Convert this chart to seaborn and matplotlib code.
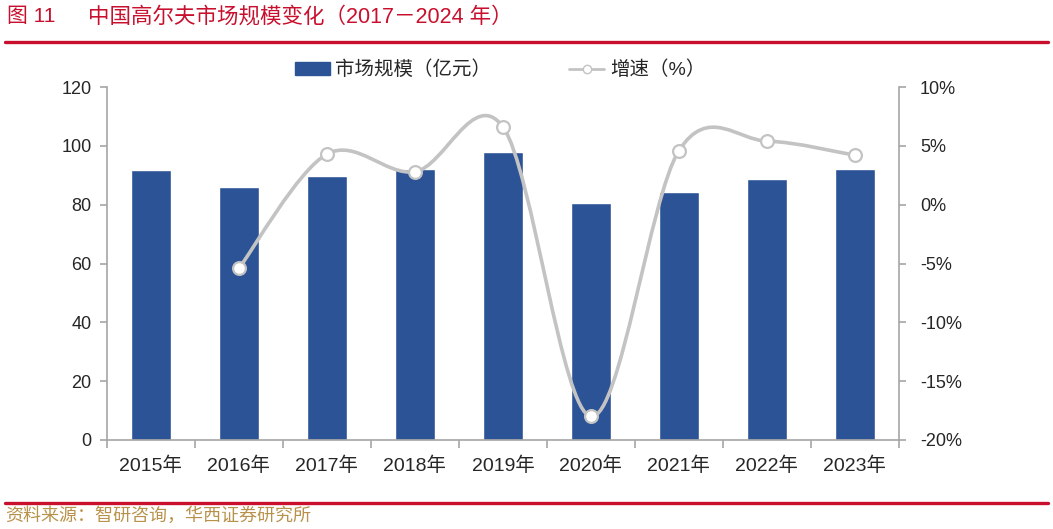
import numpy as np
import pandas as pd
import matplotlib
matplotlib.use("Agg")
import matplotlib.pyplot as plt
from matplotlib.path import Path
from matplotlib.patches import PathPatch
from matplotlib.lines import Line2D
from matplotlib.patches import Patch
import seaborn as sns

years = ["2015年", "2016年", "2017年", "2018年", "2019年", "2020年", "2021年", "2022年", "2023年"]
market_size = [91.8, 86.1, 89.7, 92.2, 98.0, 80.6, 84.3, 88.7, 92.2]
growth_years = ["2016年", "2017年", "2018年", "2019年", "2020年", "2021年", "2022年", "2023年"]
growth_pct = [-5.4, 4.3, 2.8, 6.6, -18.0, 4.6, 5.4, 4.2]
left_ticks = [0, 20, 40, 60, 80, 100, 120]
right_ticks = [-20, -15, -10, -5, 0, 5, 10]

title_num = "图 11"
title_text = "中国高尔夫市场规模变化（2017－2024 年）"
source_text = "资料来源：智研咨询，华西证券研究所"
bar_label = "市场规模（亿元）"
line_label = "增速（%）"

sns.set_theme(style="white")
FONT = ["Liberation Sans", "Noto Sans CJK SC", "DejaVu Sans"]
plt.rcParams["font.family"] = FONT

BAR_C = "#2B5396"
LINE_C = "#C3C3C3"
AX_C = "#A6A6A6"
TXT_C = "#262626"
RED = "#C8102E"

fig = plt.figure(figsize=(10.53, 5.29), dpi=100)
ax = fig.add_axes([107 / 1053, 89 / 529, 792 / 1053, 353 / 529])

df = pd.DataFrame({"year": years, "size": market_size})
sns.barplot(data=df, x="year", y="size", color=BAR_C, width=0.45, ax=ax,
            saturation=1, order=years)
ax.set_xlim(-0.5, len(years) - 0.5)
ax.set_ylim(0, 120)
ax.set_yticks(left_ticks)
ax.set_yticklabels([str(t) for t in left_ticks])
ax.set_xlabel("")
ax.set_ylabel("")

ax2 = ax.twinx()
ax2.set_ylim(-20, 10)
ax2.set_yticks(right_ticks)
ax2.set_yticklabels([f"{t}%" for t in right_ticks])

# smoothed line (Excel-style Catmull-Rom Bezier through data points)
xs = np.array([years.index(y) for y in growth_years], dtype=float)
ys = np.array(growth_pct, dtype=float)
pts = np.column_stack([xs, ys])
n = len(pts)
verts = [tuple(pts[0])]
codes = [Path.MOVETO]
for i in range(n - 1):
    p0 = pts[i - 1] if i > 0 else pts[i]
    p1 = pts[i]
    p2 = pts[i + 1]
    p3 = pts[i + 2] if i + 2 < n else pts[i + 1]
    c1 = p1 + (p2 - p0) / 6.0
    c2 = p2 - (p3 - p1) / 6.0
    verts += [tuple(c1), tuple(c2), tuple(p2)]
    codes += [Path.CURVE4] * 3
ax2.add_patch(PathPatch(Path(verts, codes), facecolor="none", edgecolor=LINE_C,
                        lw=2.6, zorder=3))
gdf = pd.DataFrame({"x": xs, "g": ys})
sns.scatterplot(data=gdf, x="x", y="g", ax=ax2, s=85, color="white",
                edgecolor=LINE_C, linewidth=1.6, zorder=4, legend=False)
ax2.set_xlabel("")
ax2.set_ylabel("")
ax2.set_xlim(-0.5, len(years) - 0.5)

# spines and ticks
for a in (ax, ax2):
    for s in a.spines.values():
        s.set_visible(False)
ax.spines["left"].set_visible(True)
ax.spines["bottom"].set_visible(True)
ax2.spines["right"].set_visible(True)
for s in (ax.spines["left"], ax.spines["bottom"], ax2.spines["right"]):
    s.set_color(AX_C)
    s.set_linewidth(1.2)

ax.tick_params(axis="y", left=True, length=5, width=1.2, color=AX_C, pad=6,
               labelsize=13, labelcolor=TXT_C)
ax2.tick_params(axis="y", right=True, length=5, width=1.2, color=AX_C, pad=10,
                labelsize=13, labelcolor=TXT_C)
ax.tick_params(axis="x", bottom=False, length=0, pad=12, labelsize=14, labelcolor=TXT_C)
ax.set_xticks(np.arange(-0.5, len(years), 1.0), minor=True)
ax.tick_params(axis="x", which="minor", bottom=True, length=6, width=1.2, color=AX_C)
ax.grid(False)
ax2.grid(False)

# legend
handles = [Patch(facecolor=BAR_C, edgecolor=BAR_C, label=bar_label),
           Line2D([0], [0], color=LINE_C, lw=2, marker="o", markersize=6,
                  markerfacecolor="white", markeredgecolor=LINE_C, label=line_label)]
fig.legend(handles=handles, loc="center", bbox_to_anchor=(500 / 1053, 1 - 70 / 529),
           ncol=2, frameon=False, fontsize=14, columnspacing=4.0, handlelength=1.8,
           handletextpad=0.3, labelcolor=TXT_C)

# header and footer
fig.text(7 / 1053, 1 - 17 / 529, title_num, color=RED, fontsize=15, va="center", ha="left")
fig.text(88 / 1053, 1 - 17 / 529, title_text, color=RED, fontsize=15.5, va="center", ha="left")
fig.add_artist(Line2D([5 / 1053, 1048 / 1053], [1 - 42 / 529, 1 - 42 / 529],
                      color=RED, lw=2.4, transform=fig.transFigure))
fig.add_artist(Line2D([5 / 1053, 1048 / 1053], [1 - 503 / 529, 1 - 503 / 529],
                      color=RED, lw=2.4, transform=fig.transFigure))
fig.text(5 / 1053, 1 - 516 / 529, source_text, color="#B8924A", fontsize=13,
         va="center", ha="left")

fig.savefig("out.png", dpi=100)
